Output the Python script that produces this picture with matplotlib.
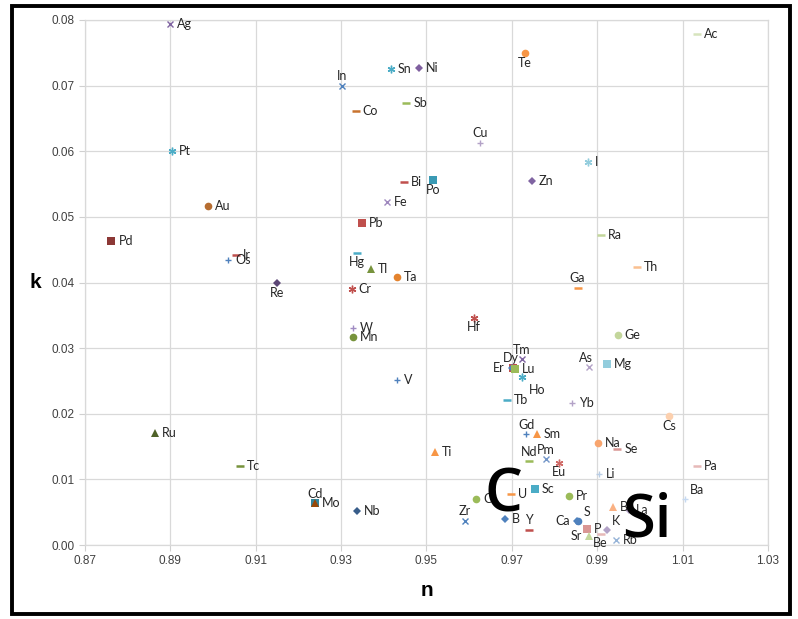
import matplotlib
matplotlib.use("Agg")
import matplotlib.pyplot as plt
from matplotlib.patches import Rectangle

# ---- data ----
elements = ["Ag", "Pt", "In", "Sn", "Ni", "Te", "Co", "Sb", "Cu", "Bi", "Po", "Zn", "Ac", "I",
            "Au", "Pd", "Ir", "Os", "Re", "Fe", "Pb", "Hg", "Tl", "Ta", "Cr", "Hf", "W", "Mn",
            "Ra", "Th", "Ga", "Ge", "Mg", "As", "Ru", "Tc", "Cd", "Mo", "V", "Nb", "Ti", "Zr",
            "C", "U", "B", "Y", "Sc", "Dy", "Er", "Lu", "Tm", "Ho", "Tb", "Yb", "Gd", "Sm",
            "Nd", "Pm", "Eu", "Na", "Se", "Li", "Cs", "Pa", "Ba", "Pr", "Br", "La", "Ca", "S",
            "P", "Sr", "K", "Be", "Rb"]
n_values = [0.8900, 0.8904, 0.9302, 0.9416, 0.9482, 0.9730, 0.9334, 0.9453, 0.9625, 0.9447,
            0.9515, 0.9746, 1.0133, 0.9878, 0.8989, 0.8762, 0.9054, 0.9035, 0.9150, 0.9407,
            0.9349, 0.9338, 0.9369, 0.9431, 0.9325, 0.9612, 0.9328, 0.9328, 0.9908, 0.9992,
            0.9854, 0.9948, 0.9922, 0.9881, 0.8864, 0.9063, 0.9239, 0.9239, 0.9432, 0.9338,
            0.9520, 0.9590, 0.9617, 0.9698, 0.9684, 0.9741, 0.9754, 0.9703, 0.9700, 0.9707,
            0.9723, 0.9723, 0.9689, 0.9841, 0.9734, 0.9759, 0.9741, 0.9779, 0.9810, 0.9902,
            0.9947, 0.9904, 1.0068, 1.0133, 1.0105, 0.9833, 0.9937, 0.9975, 0.9853, 0.9855,
            0.9876, 0.9881, 0.9922, 0.9908, 0.9944]
k_values = [0.0794, 0.0600, 0.0700, 0.0725, 0.0727, 0.0749, 0.0662, 0.0673, 0.0613, 0.0553,
            0.0556, 0.0555, 0.0779, 0.0583, 0.0517, 0.0463, 0.0442, 0.0434, 0.0399, 0.0522,
            0.0491, 0.0445, 0.0421, 0.0408, 0.0390, 0.0346, 0.0330, 0.0317, 0.0473, 0.0424,
            0.0392, 0.0320, 0.0276, 0.0271, 0.0170, 0.0120, 0.0064, 0.0064, 0.0251, 0.0052,
            0.0142, 0.0037, 0.0070, 0.0078, 0.0040, 0.0023, 0.0085, 0.0270, 0.0270, 0.0268,
            0.0283, 0.0256, 0.0221, 0.0216, 0.0169, 0.0169, 0.0128, 0.0131, 0.0125, 0.0156,
            0.0147, 0.0108, 0.0196, 0.0121, 0.0070, 0.0074, 0.0058, 0.0053, 0.0036, 0.0037,
            0.0024, 0.0014, 0.0023, 0.0017, 0.0007]
x_ticks = [0.87, 0.89, 0.91, 0.93, 0.95, 0.97, 0.99, 1.01, 1.03]
y_ticks = [0.00, 0.01, 0.02, 0.03, 0.04, 0.05, 0.06, 0.07, 0.08]
big_labels = ["C", "Si"]
big_label_n = [0.9680, 1.0017]
big_label_k = [0.0075, 0.0037]

# ---- styles (marker, colour, label side) ----
style = {
    "Ag": ("x", "#8064A2", "r"), "Pt": ("ast", "#4BACC6", "r"), "In": ("x", "#4F81BD", "a"),
    "Sn": ("ast", "#4BACC6", "r"), "Ni": ("D", "#7F5F9F", "r"), "Te": ("o", "#F79646", "b"),
    "Co": ("_", "#C8732E", "r"), "Sb": ("_", "#9BBB59", "r"), "Cu": ("+", "#B3A2C7", "a"),
    "Bi": ("_", "#C0504D", "r"), "Po": ("s", "#3A9AB4", "b"), "Zn": ("D", "#8064A2", "r"),
    "Ac": ("_", "#D7E4BD", "r"), "I": ("ast", "#93CDDD", "r"), "Au": ("o", "#B66D31", "r"),
    "Pd": ("s", "#8C3836", "r"), "Ir": ("_", "#C0504D", "r"), "Os": ("+", "#4F81BD", "r"),
    "Re": ("D", "#5C4776", "b"), "Fe": ("x", "#9E87BE", "r"), "Pb": ("s", "#C0504D", "r"),
    "Hg": ("_", "#4BACC6", "b"), "Tl": ("^", "#77933C", "r"), "Ta": ("o", "#E4832E", "r"),
    "Cr": ("ast", "#C0504D", "r"), "Hf": ("ast", "#C0504D", "b"), "W": ("+", "#A08BC2", "r"),
    "Mn": ("o", "#77933C", "r"), "Ra": ("_", "#C3D69B", "r"), "Th": ("_", "#FAC090", "r"),
    "Ga": ("_", "#F79646", "a"), "Ge": ("o", "#C3D69B", "r"), "Mg": ("s", "#93CDDD", "r"),
    "As": ("x", "#B3A2C7", "al"), "Ru": ("^", "#4F6228", "r"), "Tc": ("_", "#77933C", "r"),
    "Cd": ("s", "#31859C", "a"), "Mo": ("^", "#984807", "r"), "V": ("+", "#4F81BD", "r"),
    "Nb": ("D", "#385D8A", "r"), "Ti": ("^", "#F79646", "r"), "Zr": ("x", "#4F81BD", "a"),
    "C": ("o", "#9BBB59", "r"), "U": ("_", "#F79646", "r"), "B": ("D", "#4F81BD", "r"),
    "Y": ("_", "#C0504D", "a"), "Sc": ("s", "#4BACC6", "r"), "Dy": ("s", "#C0504D", "al"),
    "Er": ("D", "#4F81BD", "l"), "Lu": ("s", "#9BBB59", "r"), "Tm": ("x", "#8064A2", "a"),
    "Ho": ("ast", "#4BACC6", "br"), "Tb": ("_", "#4BACC6", "r"), "Yb": ("+", "#B3A2C7", "r"),
    "Gd": ("+", "#4F81BD", "a"), "Sm": ("^", "#F79646", "r"), "Nd": ("_", "#9BBB59", "a"),
    "Pm": ("x", "#7396C8", "a"), "Eu": ("ast", "#D06A67", "b"), "Na": ("o", "#F8A56E", "r"),
    "Se": ("_", "#D99694", "r"), "Li": ("+", "#B9CDE5", "r"), "Cs": ("o", "#FCD0AE", "b"),
    "Pa": ("_", "#E6B9B8", "r"), "Ba": ("+", "#C6D9F1", "ar"), "Pr": ("o", "#9BBB59", "r"),
    "Br": ("^", "#FAB183", "r"), "La": ("D", "#B3A2C7", "r"), "Ca": ("D", "#4F81BD", "l"),
    "S": ("o", "#4F81BD", "ar"), "P": ("s", "#D99694", "r"), "Sr": ("^", "#C3D69B", "l"),
    "K": ("D", "#B3A2C7", "ar"), "Be": ("_", "#E6B9B8", "b"), "Rb": ("x", "#95B3D7", "r"),
}

plt.rcParams["font.family"] = ["Lato", "DejaVu Sans"]
fig = plt.figure(figsize=(7.98, 6.19), dpi=100)
ax = fig.add_axes([85 / 798, 1 - 545 / 619, (768 - 85) / 798, (545 - 20) / 619])

ast_marker = (6, 2, 0)
for el, n, k in zip(elements, n_values, k_values):
    m, c, side = style[el]
    if m == "ast":
        ax.plot(n, k, marker=ast_marker, ms=5.5, mew=1.0, color=c, ls="none", zorder=3)
    elif m == "x":
        ax.plot(n, k, marker="x", ms=4.5, mew=1.0, color=c, ls="none", zorder=3)
    elif m == "+":
        ax.plot(n, k, marker="+", ms=5, mew=1.0, color=c, ls="none", zorder=3)
    elif m == "_":
        ax.plot(n, k, marker="_", ms=6, mew=1.8, color=c, ls="none", zorder=3)
    elif m == "D":
        ax.plot(n, k, marker="D", ms=4, mew=0, color=c, ls="none", zorder=3)
    elif m == "^":
        ax.plot(n, k, marker="^", ms=5.5, mew=0, color=c, ls="none", zorder=3)
    elif m == "s":
        ax.plot(n, k, marker="s", ms=5.5, mew=0, color=c, ls="none", zorder=3)
    else:
        ax.plot(n, k, marker="o", ms=5.5, mew=0, color=c, ls="none", zorder=3)

    offs = {"r": ((5.0, 0), "left", "center"),
            "l": ((-5.0, 0), "right", "center"),
            "a": ((0, 2.5), "center", "bottom"),
            "b": ((0, -2.5), "center", "top"),
            "al": ((-2, 2.5), "center", "bottom"),
            "ar": ((4, 2), "left", "bottom"),
            "br": ((5, -5), "left", "top")}
    (dx, dy), ha, va = offs[side]
    ax.annotate(el, (n, k), xytext=(dx, dy), textcoords="offset points",
                ha=ha, va=va, fontsize=9, color="#262626", zorder=4)

for t, n, k in zip(big_labels, big_label_n, big_label_k):
    ax.text(n, k, t, fontsize=43, color="black", ha="center", va="center",
            fontweight="semibold", family=["Open Sans", "DejaVu Sans"], zorder=6)

ax.set_xlim(0.87, 1.03)
ax.set_ylim(0.0, 0.08)
ax.set_xticks(x_ticks)
ax.set_yticks(y_ticks)
ax.set_xticklabels([f"{v:.2f}" for v in x_ticks])
ax.set_yticklabels([f"{v:.2f}" for v in y_ticks])
tick_font = ["Liberation Sans Narrow", "Liberation Sans", "DejaVu Sans"]
for lab in ax.get_xticklabels() + ax.get_yticklabels():
    lab.set_family(tick_font)
    lab.set_fontsize(8.5)
    lab.set_color("#404040")
ax.tick_params(axis="both", length=4, color="#D0D0D0", width=0.8)
ax.grid(True, color="#D9D9D9", lw=0.9)
ax.set_axisbelow(True)
for s in ax.spines.values():
    s.set_color("#D9D9D9")
    s.set_linewidth(0.9)

fig.text(35 / 798, 1 - 283 / 619, "k", fontsize=15, fontweight="bold",
         ha="center", va="center", family=["Liberation Sans", "DejaVu Sans"])
fig.text(427 / 798, 1 - 590 / 619, "n", fontsize=15, fontweight="bold",
         ha="center", va="center", family=["Liberation Sans", "DejaVu Sans"])

fig.patches.append(Rectangle((12 / 798, 1 - 614 / 619), (790 - 12) / 798, (614 - 6) / 619,
                             transform=fig.transFigure, fill=False, edgecolor="black",
                             lw=2.8, zorder=10))

fig.savefig("out.png", dpi=100)
